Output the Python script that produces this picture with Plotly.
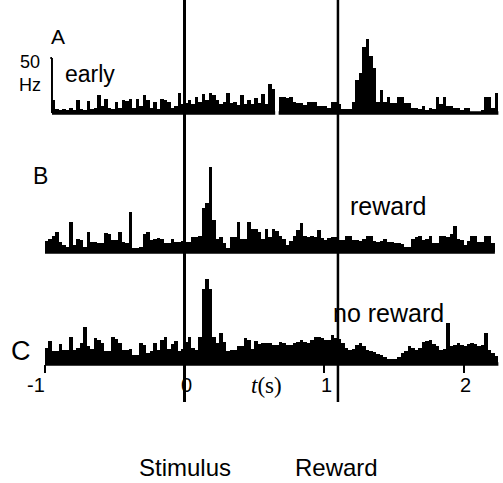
import plotly.graph_objects as go

# ---------------- data (firing rate in Hz, 25 ms bins from -1.0 s) ----------------
BIN_START = -1.0
BIN_WIDTH = 0.025

rate_A_early = [None, None, 12, 4, 3, 4, 3, 5, 3, 12,
                4, 3, 11, 4, 5, 16, 6, 13, 5, 4,
                10, 5, 12, 11, 13, 5, 13, 6, 16, 12,
                5, 10, 4, 13, 12, 10, 5, 6, 18, 8,
                9, 12, 8, 15, 10, 17, 12, 18, 16, 12,
                8, 10, 18, 9, 10, 7, 16, 8, 12, 8,
                14, 9, 17, 8, 26, 22, None, 15, 15, 14,
                15, 10, 9, 9, 7, 10, 10, 10, 6, 6,
                6, 5, 10, 10, 8, 4, 4, 4, 10, 30,
                36, 60, 67, 52, 41, 10, 21, 10, 15, 9,
                9, 15, 15, 9, 9, 5, 5, 4, 6, 3,
                5, 4, 15, 8, 15, 6, 6, 5, 5, 3,
                5, 5, 1, 1, 1, 3, 15, 15, 5, 18]

rate_B_reward = [10, 12, 15, 18, 9, 6, 5, 27, 6, 12,
                 11, 5, 18, 9, 9, 8, 8, 17, 16, 11,
                 11, 18, 9, 8, 36, 4, 4, 5, 16, 18,
                 11, 12, 13, 12, 8, 8, 12, 9, 9, 10,
                 9, 9, 14, 14, 15, 40, 45, 77, 29, 12,
                 14, 8, 4, 14, 14, 27, 12, 12, 27, 21,
                 21, 18, 12, 21, 14, 21, 19, 15, 12, 6,
                 10, 15, 20, 26, 15, 14, 15, 14, 20, 13,
                 11, 13, 14, 14, 11, 11, 15, 15, 11, 11,
                 10, 12, 15, 15, 10, 9, 10, 12, 9, 9,
                 8, 8, 7, 5, 5, 12, 14, 15, 11, 12,
                 15, 8, 8, 15, 15, 14, 16, 24, 12, 11,
                 6, 10, 15, 15, 9, 9, 15, 15, 8, None]

rate_C_noreward = [15, 21, 12, 12, 18, 13, 13, 25, 13, 15,
                   19, 34, 16, 14, 24, 22, 19, 12, 12, 25,
                   23, 19, 13, 13, 14, 8, 8, 19, 17, 10,
                   12, 19, 13, 22, 25, 14, 18, 21, 12, 14,
                   20, 25, 15, 13, 25, 68, 77, 68, 25, 19,
                   28, 20, 12, 13, 13, 16, 16, 24, 22, 14,
                   21, 18, 19, 19, 19, 17, 17, 20, 19, 17,
                   17, 19, 20, 22, 20, 19, 22, 25, 25, 24,
                   22, 22, 26, 24, 23, 19, 15, 13, 14, 17,
                   19, 16, 13, 12, 11, 9, 8, 6, 5, 5,
                   5, 6, 10, 12, 16, 15, 13, 15, 20, 21,
                   22, 18, 16, 13, 14, 37, 16, 17, 19, 17,
                   16, 18, 19, 18, 16, 17, 28, 13, 10, 7]

panel_letters = ["A", "B", "C"]
panel_labels = ["early", "reward", "no reward"]
event_names = ["Stimulus", "Reward"]
event_times = [0.0, 1.1]
tick_values = [-1, 0, 1, 2]
tick_labels = ["-1", "0", "1", "2"]
scale_bar_hz = 50

# ---------------- layout helpers ----------------
W, H = 503, 483
T0_PX, PX_PER_S = 184.5, 139.5
PX_PER_HZ = 1.1
FONT = "Liberation Sans, Arial, sans-serif"


def px(x):
    return x / W


def py(y):
    return 1 - y / H


def centers(n):
    return [BIN_START + BIN_WIDTH * (i + 0.5) for i in range(n)]


def baseline_xy(vals):
    xs, ys = [], []
    prev = False
    for i, v in enumerate(vals):
        l = BIN_START + BIN_WIDTH * i
        if v is None:
            if prev:
                xs.append(None); ys.append(None)
            prev = False
            continue
        if not prev:
            xs.append(l); ys.append(0)
        xs.append(l + BIN_WIDTH); ys.append(0)
        prev = True
    return xs, ys


panels = [rate_A_early, rate_B_reward, rate_C_noreward]
base_px = [113, 252, 364]
top_px = [8, 152, 264]
axis_names = ["y", "y2", "y3"]

fig = go.Figure()
for vals, ax in zip(panels, axis_names):
    fig.add_trace(go.Bar(x=centers(len(vals)), y=vals, width=BIN_WIDTH,
                         marker=dict(color="black", line=dict(width=0)),
                         xaxis="x", yaxis=ax, showlegend=False, hoverinfo="skip"))
    bx, by = baseline_xy(vals)
    fig.add_trace(go.Scatter(x=bx, y=by, mode="lines", line=dict(color="black", width=3.5),
                             xaxis="x", yaxis=ax, showlegend=False, hoverinfo="skip"))

layout = dict(
    width=W, height=H, margin=dict(l=0, r=0, t=0, b=0),
    paper_bgcolor="white", plot_bgcolor="rgba(0,0,0,0)",
    bargap=0, barmode="overlay",
    xaxis=dict(range=[-T0_PX / PX_PER_S, (W - T0_PX) / PX_PER_S], domain=[0, 1],
               anchor="free", position=py(base_px[2]),
               tickvals=[-1, 1, 2], ticks="outside", ticklen=8, tickwidth=2,
               tickcolor="black", showticklabels=False, showgrid=False,
               zeroline=False, showline=False),
)
for k, ax in enumerate(axis_names):
    key = "yaxis" if ax == "y" else "yaxis" + ax[1:]
    layout[key] = dict(domain=[py(base_px[k] + 8), py(top_px[k])],
                       range=[-8 / PX_PER_HZ, (base_px[k] - top_px[k]) / PX_PER_HZ],
                       anchor="x", visible=False, fixedrange=True)
fig.update_layout(**layout)

# event lines (stimulus, reward)
for t, w in zip(event_times, [3, 2.5]):
    fig.add_shape(type="line", xref="x", yref="paper", x0=t, x1=t,
                  y0=py(402), y1=1, line=dict(color="black", width=w))

# 50 Hz scale bar on panel A
a_start = BIN_START + BIN_WIDTH * 2
fig.add_shape(type="line", xref="x", yref="y", x0=a_start, x1=a_start, y0=0, y1=scale_bar_hz,
              line=dict(color="black", width=2))
fig.add_shape(type="line", xref="x", yref="y", x0=a_start - 0.012, x1=a_start, y0=scale_bar_hz,
              y1=scale_bar_hz, line=dict(color="black", width=2))


def text(x, y, s, size, family=FONT, xanchor="center"):
    fig.add_annotation(x=px(x), y=py(y), xref="paper", yref="paper", text=s, showarrow=False,
                       xanchor=xanchor, yanchor="middle",
                       font=dict(family=family, size=size, color="black"))


text(58, 37, panel_letters[0], 21)
text(40, 176, panel_letters[1], 23)
text(21, 351, panel_letters[2], 27)
text(30, 62, "50", 18)
text(30, 85, "Hz", 18)
text(90, 74, panel_labels[0], 23)
text(388, 206, panel_labels[1], 25)
text(388, 313, panel_labels[2], 25)
text(185, 467, event_names[0], 24)
text(336, 467, event_names[1], 24)
text(266, 385, "<i>t</i>(s)", 23, family="Liberation Serif, Times New Roman, serif")

# tick labels on panel C
for tv, tl in zip(tick_values, tick_labels):
    fig.add_annotation(x=tv, y=py(385), xref="x", yref="paper", text=tl, showarrow=False,
                       xanchor="right" if tv < 0 else "center", yanchor="middle",
                       xshift=2,
                       font=dict(family=FONT, size=20, color="black"))

fig.write_html("out.html", config={"displayModeBar": False, "staticPlot": True},
               post_script="document.body.style.margin='0';document.body.style.overflow='hidden';")
